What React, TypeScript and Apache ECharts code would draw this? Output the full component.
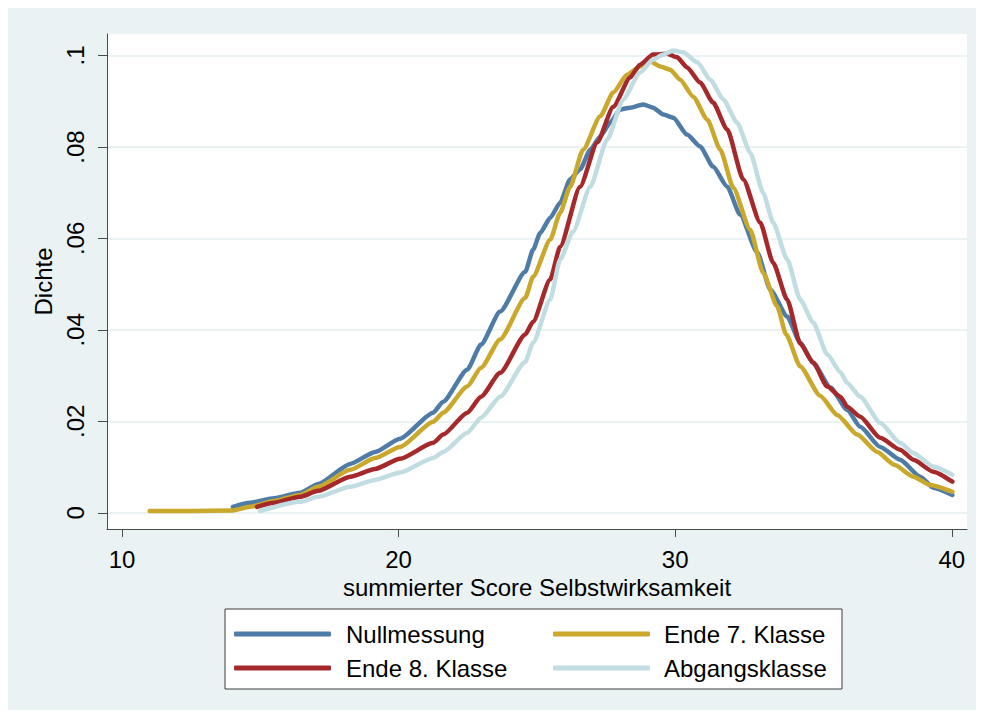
import React, { useEffect, useRef } from "react";
import * as echarts from "echarts";

// ---- Data (kernel density estimates) ----
const seriesNames = ["Nullmessung", "Ende 7. Klasse", "Ende 8. Klasse", "Abgangsklasse"];

const nullmessungX = [14.01, 14.63, 15.5, 16.44, 17.09, 18.25, 19.15, 20.05, 21.25, 21.61, 22.48, 22.98, 23.67, 24.58, 24.86, 25.12, 25.48, 25.84, 26.2, 26.56, 26.93, 27.29, 27.65, 28.01, 28.37, 28.84, 29.2, 29.57, 29.93, 30.43, 30.9, 31.37, 31.88, 32.35, 32.97, 33.44, 34.05, 34.52, 34.99, 35.61, 36.22, 36.69, 37.41, 38.13, 38.86, 39.33, 40.02];
const nullmessungY = [0.0013, 0.0022, 0.0032, 0.0044, 0.0063, 0.0107, 0.0133, 0.0162, 0.0219, 0.0243, 0.0313, 0.0368, 0.044, 0.0527, 0.0575, 0.0612, 0.0645, 0.0678, 0.0729, 0.0751, 0.0794, 0.0823, 0.0853, 0.0882, 0.0886, 0.0893, 0.0886, 0.0871, 0.0864, 0.0827, 0.0801, 0.0757, 0.0713, 0.0652, 0.0569, 0.0488, 0.0429, 0.0372, 0.0328, 0.0274, 0.0225, 0.0188, 0.0144, 0.0116, 0.0079, 0.0055, 0.0039];

const ende7X = [11.0, 12.5, 14.0, 14.63, 15.5, 16.44, 17.09, 18.25, 19.15, 20.05, 21.25, 21.61, 22.48, 22.98, 23.67, 24.58, 24.86, 25.48, 25.84, 26.2, 26.67, 27.29, 27.76, 28.26, 28.73, 29.1, 29.46, 29.82, 30.18, 30.65, 31.16, 31.63, 32.1, 32.71, 33.18, 33.69, 34.01, 34.52, 35.24, 35.86, 36.58, 37.31, 37.92, 38.61, 39.22, 40.02];
const ende7Y = [0.0004, 0.0004, 0.0005, 0.0013, 0.0026, 0.0039, 0.0057, 0.0094, 0.012, 0.0144, 0.0199, 0.0219, 0.0276, 0.0317, 0.0379, 0.047, 0.0516, 0.0597, 0.0656, 0.0713, 0.0794, 0.0867, 0.0919, 0.0958, 0.0976, 0.0987, 0.0976, 0.0969, 0.0947, 0.091, 0.086, 0.0794, 0.0711, 0.0619, 0.0525, 0.0451, 0.039, 0.032, 0.0256, 0.0214, 0.0171, 0.0133, 0.0105, 0.0079, 0.0061, 0.0046];

const ende8X = [14.88, 15.5, 16.44, 17.09, 18.25, 19.15, 20.05, 21.25, 21.61, 22.48, 22.98, 23.67, 24.58, 24.86, 25.48, 25.84, 26.56, 27.18, 27.76, 28.37, 28.73, 29.2, 29.71, 30.07, 30.43, 30.9, 31.37, 31.88, 32.46, 33.07, 33.54, 34.05, 34.52, 34.99, 35.5, 35.97, 36.22, 36.69, 37.41, 38.13, 38.61, 39.33, 40.02];
const ende8Y = [0.0013, 0.0022, 0.0035, 0.0048, 0.0079, 0.0096, 0.0118, 0.0153, 0.0171, 0.0219, 0.0254, 0.0306, 0.039, 0.0418, 0.051, 0.0582, 0.0713, 0.081, 0.0888, 0.0952, 0.098, 0.1002, 0.1004, 0.0996, 0.0974, 0.0941, 0.0897, 0.0838, 0.0729, 0.0635, 0.0547, 0.0466, 0.037, 0.0328, 0.0276, 0.0254, 0.0232, 0.021, 0.0164, 0.0138, 0.0116, 0.009, 0.0068];

const abgangX = [14.99, 16.44, 17.09, 18.25, 19.15, 20.05, 21.25, 21.61, 22.48, 22.98, 23.67, 24.58, 24.86, 25.48, 25.84, 26.31, 26.93, 27.54, 28.12, 28.73, 29.2, 29.57, 29.93, 30.29, 30.8, 31.27, 31.74, 32.24, 32.71, 33.18, 33.54, 34.05, 34.52, 34.99, 35.5, 35.97, 36.22, 36.69, 37.41, 38.13, 38.61, 39.33, 40.02];
const abgangY = [0.0004, 0.0024, 0.0035, 0.0057, 0.0072, 0.0088, 0.012, 0.0133, 0.0175, 0.0208, 0.0254, 0.033, 0.0372, 0.0466, 0.0554, 0.0615, 0.0713, 0.0816, 0.0904, 0.0963, 0.0991, 0.1002, 0.1011, 0.1007, 0.0985, 0.0947, 0.0904, 0.0853, 0.0788, 0.07, 0.0635, 0.0554, 0.0466, 0.0416, 0.0346, 0.0308, 0.0284, 0.0254, 0.0197, 0.0153, 0.0131, 0.0101, 0.0083];

const xTickValues = [10, 20, 30, 40];
const xTickLabels = ["10", "20", "30", "40"];
const yTickValues = [0, 0.02, 0.04, 0.06, 0.08, 0.1];
const yTickLabels = ["0", ".02", ".04", ".06", ".08", ".1"];

const xTitle = "summierter Score Selbstwirksamkeit";
const yTitle = "Dichte";

const colors = ["#4e7ca7", "#c9a82c", "#a5282a", "#c1dde2"];

const zip = (xs: number[], ys: number[]) => xs.map((x, i) => [x, ys[i]]);

export default function App() {
  const ref = useRef<HTMLDivElement>(null);
  useEffect(() => {
    if (!ref.current) return;
    const chart = echarts.init(ref.current, null, { renderer: "svg" });
    const font = "Arial, 'Liberation Sans', Helvetica, sans-serif";
    const seriesData = [
      zip(nullmessungX, nullmessungY),
      zip(ende7X, ende7Y),
      zip(ende8X, ende8Y),
      zip(abgangX, abgangY),
    ];
    const legendBase = {
      orient: "vertical",
      top: 614,
      padding: 0,
      itemWidth: 97,
      itemHeight: 5,
      itemGap: 10,
      icon: "roundRect",
      selectedMode: false,
    };
    chart.setOption({
      animation: false,
      backgroundColor: "#eaf2f3",
      textStyle: { fontFamily: font },
      grid: {
        left: 99,
        top: 26,
        right: 9,
        bottom: 181,
        show: true,
        backgroundColor: "#ffffff",
        borderWidth: 0,
      },
      xAxis: {
        type: "value",
        min: 9.457,
        max: 40.55,
        axisLine: { show: true, onZero: false, lineStyle: { color: "#4a4a4a", width: 1 } },
        axisTick: { show: true, customValues: xTickValues, length: 8, lineStyle: { color: "#4a4a4a" } },
        axisLabel: {
          customValues: xTickValues,
          fontSize: 24,
          color: "#000",
          margin: 18,
          fontFamily: font,
          formatter: (v: number) => {
            const i = xTickValues.findIndex((t) => Math.abs(t - v) < 1e-9);
            return i >= 0 ? xTickLabels[i] : "";
          },
        },
        splitLine: { show: false },
        name: xTitle,
        nameLocation: "middle",
        nameGap: 36,
        nameTextStyle: { fontSize: 24, color: "#000", fontFamily: font },
      },
      yAxis: {
        type: "value",
        min: -0.00354,
        max: 0.1047,
        axisLine: { show: true, onZero: false, lineStyle: { color: "#4a4a4a", width: 1 } },
        axisTick: { show: true, customValues: yTickValues, length: 9, lineStyle: { color: "#4a4a4a" } },
        axisLabel: {
          customValues: yTickValues,
          rotate: 90,
          fontSize: 24,
          color: "#000",
          margin: 20,
          fontFamily: font,
          formatter: (v: number) => {
            const i = yTickValues.findIndex((t) => Math.abs(t - v) < 1e-9);
            return i >= 0 ? yTickLabels[i] : "";
          },
        },
        splitLine: { show: true, customValues: yTickValues, lineStyle: { color: "#eaf2f3", width: 2 } },
        name: yTitle,
        nameLocation: "middle",
        nameRotate: 90,
        nameGap: 43,
        nameTextStyle: { fontSize: 24, color: "#000", fontFamily: font },
      },
      legend: [
        {
          ...legendBase,
          left: 226,
          data: [seriesNames[0], seriesNames[2]],
          textStyle: { fontSize: 24, lineHeight: 24, color: "#000", fontFamily: font, padding: [0, 0, 0, 10] },
        },
        {
          ...legendBase,
          left: 545,
          data: [seriesNames[1], seriesNames[3]],
          textStyle: { fontSize: 24, lineHeight: 24, color: "#000", fontFamily: font, padding: [0, 0, 0, 9] },
        },
      ],
      graphic: [
        {
          type: "rect",
          z: 0,
          shape: { x: 217, y: 601, width: 617, height: 80 },
          style: { fill: "#ffffff", stroke: "#3c3c3c", lineWidth: 1 },
        },
      ],
      series: seriesNames.map((name, i) => ({
        name,
        type: "line",
        data: seriesData[i],
        showSymbol: false,
        symbol: "none",
        smooth: 0.2,
        smoothMonotone: "x",
        color: colors[i],
        itemStyle: { color: colors[i] },
        lineStyle: { color: colors[i], width: 4.5, cap: "round", join: "round" },
        z: 2 + i,
      })),
    });
    return () => chart.dispose();
  }, []);
  return <div ref={ref} style={{ width: 968, height: 702, background: "#eaf2f3" }} />;
}
